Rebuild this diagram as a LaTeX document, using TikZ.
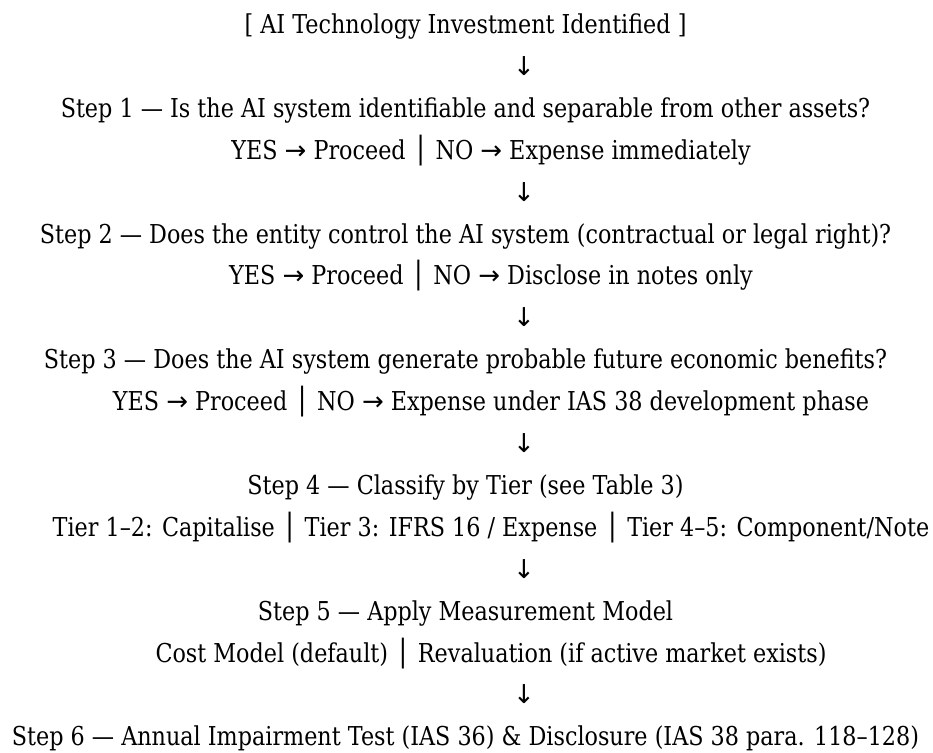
\documentclass[tikz,border=0pt]{standalone}
\usepackage{fontspec}
\setmainfont[FakeStretch=0.857]{DejaVu Serif}
\newfontfamily\glyphfont{DejaVu Sans}
\newcommand\downglyph{{\glyphfont ↓}}
\newcommand\rightglyph{{\glyphfont →}}
\newcommand\barglyph{{\glyphfont │}}
\begin{document}
\begin{tikzpicture}[x=1pt,y=-1pt,
  txt/.style={anchor=base, inner sep=0pt, font=\fontsize{26}{30}\selectfont},
  stepline/.style={txt},
  choiceline/.style={txt},
  flowarrow/.style={txt}]
\useasboundingbox (0,0) rectangle (933,752);
% column positions
\def\cx{465.5}
\def\chx{491}
\def\ax{524}
\node[stepline]   (start) at (\cx,33.5)  {[ AI Technology Investment Identified ]};
\node[flowarrow]  (a0)    at (\ax,75.4)  {\downglyph};
\node[stepline]   (s1)    at (\cx,117.3) {Step 1 — Is the AI system identifiable and separable from other assets?};
\node[choiceline] (c1)    at (\chx,159.2){YES \rightglyph{} Proceed \barglyph{} NO \rightglyph{} Expense immediately};
\node[flowarrow]  (a1)    at (\ax,201.1) {\downglyph};
\node[stepline]   (s2)    at (\cx,243)   {Step 2 — Does the entity control the AI system (contractual or legal right)?};
\node[choiceline] (c2)    at (\chx,284.9){YES \rightglyph{} Proceed \barglyph{} NO \rightglyph{} Disclose in notes only};
\node[flowarrow]  (a2)    at (\ax,326.8) {\downglyph};
\node[stepline]   (s3)    at (\cx,368.7) {Step 3 — Does the AI system generate probable future economic benefits?};
\node[choiceline] (c3)    at (\chx,410.6){YES \rightglyph{} Proceed \barglyph{} NO \rightglyph{} Expense under IAS 38 development phase};
\node[flowarrow]  (a3)    at (\ax,452.5) {\downglyph};
\node[stepline]   (s4)    at (\cx,494.4) {Step 4 — Classify by Tier (see Table 3)};
\node[choiceline] (c4)    at (\chx,536.3){Tier 1–2: Capitalise \barglyph{} Tier 3: IFRS 16 / Expense \barglyph{} Tier 4–5: Component/Note};
\node[flowarrow]  (a4)    at (\ax,578.2) {\downglyph};
\node[stepline]   (s5)    at (\cx,620.1) {Step 5 — Apply Measurement Model};
\node[choiceline] (c5)    at (\chx,662)  {Cost Model (default) \barglyph{} Revaluation (if active market exists)};
\node[flowarrow]  (a5)    at (\ax,703.9) {\downglyph};
\node[stepline]   (s6)    at (\cx,745.8) {Step 6 — Annual Impairment Test (IAS 36) \& Disclosure (IAS 38 para. 118–128)};
\end{tikzpicture}
\end{document}
